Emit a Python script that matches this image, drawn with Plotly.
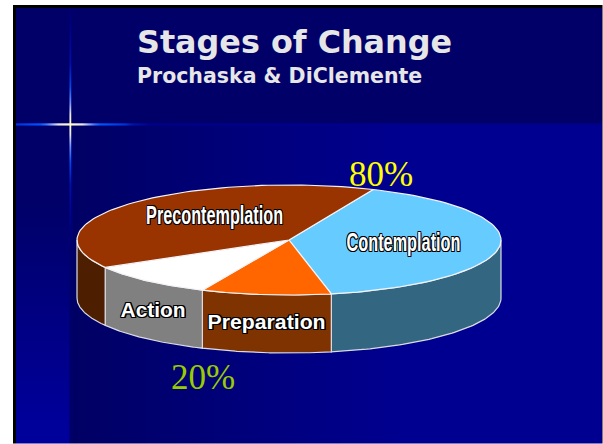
import json
import numpy as np
import plotly.graph_objects as go

W, H = 603, 444

# ---- data ----
categories = ["Contemplation", "Preparation", "Action", "Precontemplation"]
values = [40.3, 9.9, 10.0, 39.8]
top_colors = ["#66CCFF", "#FF6600", "#FFFFFF", "#993300"]
side_colors = ["#336680", "#7F3300", "#808080", "#4D1F00"]
stage_groups = ["80%", "20%"]
title_text = "Stages of Change"
subtitle_text = "Prochaska &amp; DiClemente"

# ---- pie geometry ----
CX, CY, RX, RY, DEPTH = 289, 240, 212, 55, 58
START = 66.6


def ramp(d, stops, channel):
    return np.interp(d, [s[0] for s in stops], [s[1][channel] for s in stops])


def background():
    img = np.zeros((H, W, 3), dtype=float)
    yy, xx = np.mgrid[0:H, 0:W]
    low = np.interp(xx, [70, 400], [0x64, 0x90])
    blue = np.where(yy < 124, 0x68, low)
    band = np.interp(yy, [200, 420], [0x68, 0x9A])
    blue = np.where(xx < 70, band, blue)
    blue = np.where((xx >= 70) & (xx < 73) & (yy >= 124),
                    np.maximum(blue, np.interp(yy, [200, 320], [0x70, 0x6A])), blue)
    img[..., 2] = blue

    v_stops = [(0, (255, 255, 205)), (10, (235, 235, 235)), (22, (110, 140, 255)),
               (38, (0, 70, 235)), (60, (0, 15, 170)), (100, (0, 0, 130)), (125, (0, 0, 104))]
    d = np.abs(yy - 124)
    for off, k in ((0, 1.0), (-1, 0.55), (1, 0.25)):
        m = xx == 70 + off
        for c in range(3):
            img[..., c] = np.where(m, img[..., c] * (1 - k) + ramp(d, v_stops, c) * k, img[..., c])

    h_stops = [(0, (255, 255, 205)), (12, (230, 230, 235)), (24, (60, 110, 255)),
               (30, (0, 85, 255)), (40, (0, 70, 245)), (54, (0, 50, 215)),
               (62, (0, 20, 170)), (80, (0, 0, 140)), (500, (0, 0, 140))]
    d = np.abs(xx - 70)
    for off, k in ((0, 1.0), (-1, 0.7), (1, 0.55)):
        m = yy == 124 + off
        for c in range(3):
            img[..., c] = np.where(m, img[..., c] * (1 - k) + ramp(d, h_stops, c) * k, img[..., c])

    img[(xx < 16) | (yy < 8) | (xx >= 602)] = 0
    img[xx < 13] = 255
    img[yy < 5] = 255
    return np.clip(img, 0, 255).astype(np.uint8)


def arc(a0, a1, drop=0.0):
    t = np.radians(np.linspace(a0, a1, 80))
    return CX + RX * np.cos(t), CY - RY * np.sin(t) + drop


fig = go.Figure()
fig.add_trace(go.Image(z=background(), x0=0, y0=0, dx=1, dy=1, hoverinfo="skip"))

extent = np.array(values) / sum(values) * 360
ends = START - np.cumsum(extent)
starts = ends + extent

for a0, a1, col in zip(starts, ends, side_colors):
    lo, hi = min(a0, 0), max(a1, -180)
    if lo <= hi:
        continue
    x1, y1 = arc(lo, hi)
    x2, y2 = arc(hi, lo, DEPTH)
    fig.add_trace(go.Scatter(x=np.r_[x1, x2, x1[0]], y=np.r_[y1, y2, y1[0]], mode="lines",
                             fill="toself", fillcolor=col, line=dict(color="#DCDCE6", width=1.2),
                             hoverinfo="skip"))

for a0, a1, col in zip(starts, ends, top_colors):
    x1, y1 = arc(a0, a1)
    fig.add_trace(go.Scatter(x=np.r_[CX, x1, CX], y=np.r_[CY, y1, CY], mode="lines",
                             fill="toself", fillcolor=col, line=dict(color="#F4F4F8", width=1.2),
                             hoverinfo="skip"))

OUT = ("1px 0 0 #000,-1px 0 0 #000,0 1px 0 #000,0 -1px 0 #000,"
       "1.3px 1.3px 0 #000,-1px -1px 0 #000,1px -1px 0 #000,-1px 1px 0 #000")


def note(x, y, text, family, size, color, shadow="none", weight=400, anchor="left"):
    fig.add_annotation(x=x, y=y, xref="x", yref="y", text=text,
                       showarrow=False, xanchor=anchor, yanchor="middle", borderpad=0,
                       font=dict(family=family, size=size, color=color, shadow=shadow, weight=weight))


note(136, 41, title_text, "DejaVu Sans", 31.8, "#E6E6E6", weight=700)
note(136, 76, subtitle_text, "DejaVu Sans", 20.5, "#E6E6E6", weight=700)
note(380.5, 174, stage_groups[0], "Liberation Serif", 35, "#FFFF00", anchor="center")
note(203, 377, stage_groups[1], "Liberation Serif", 35, "#99CC00", anchor="center")
arial = "Liberation Sans"
note(214.5, 215, categories[3], arial, 25, "#FFFFFF", OUT, 700, "center")
note(403, 242, categories[0], arial, 25, "#FFFFFF", OUT, 700, "center")
note(152.5, 310, categories[2], arial, 20, "#FFFFFF", OUT, 700, "center")
note(266, 322, categories[1], arial, 20, "#FFFFFF", OUT, 700, "center")

fig.update_xaxes(range=[0, W], visible=False, fixedrange=True)
fig.update_yaxes(range=[H, 0], visible=False, fixedrange=True)
fig.update_layout(width=W, height=H, margin=dict(l=0, r=0, t=0, b=0), showlegend=False,
                  paper_bgcolor="white", plot_bgcolor="white")

label_widths = {categories[3]: 137, categories[0]: 114, categories[2]: 65, categories[1]: 118}
post = ("document.body.style.margin='0';document.body.style.overflow='hidden';"
        "var w=" + json.dumps(label_widths) + ";"
        "document.querySelectorAll('.annotation-text').forEach(function(t){"
        "var n=w[t.textContent];if(n){t.setAttribute('textLength',n);"
        "t.setAttribute('lengthAdjust','spacingAndGlyphs');}});")
fig.write_html("out.html", config={"displayModeBar": False}, post_script=post)
